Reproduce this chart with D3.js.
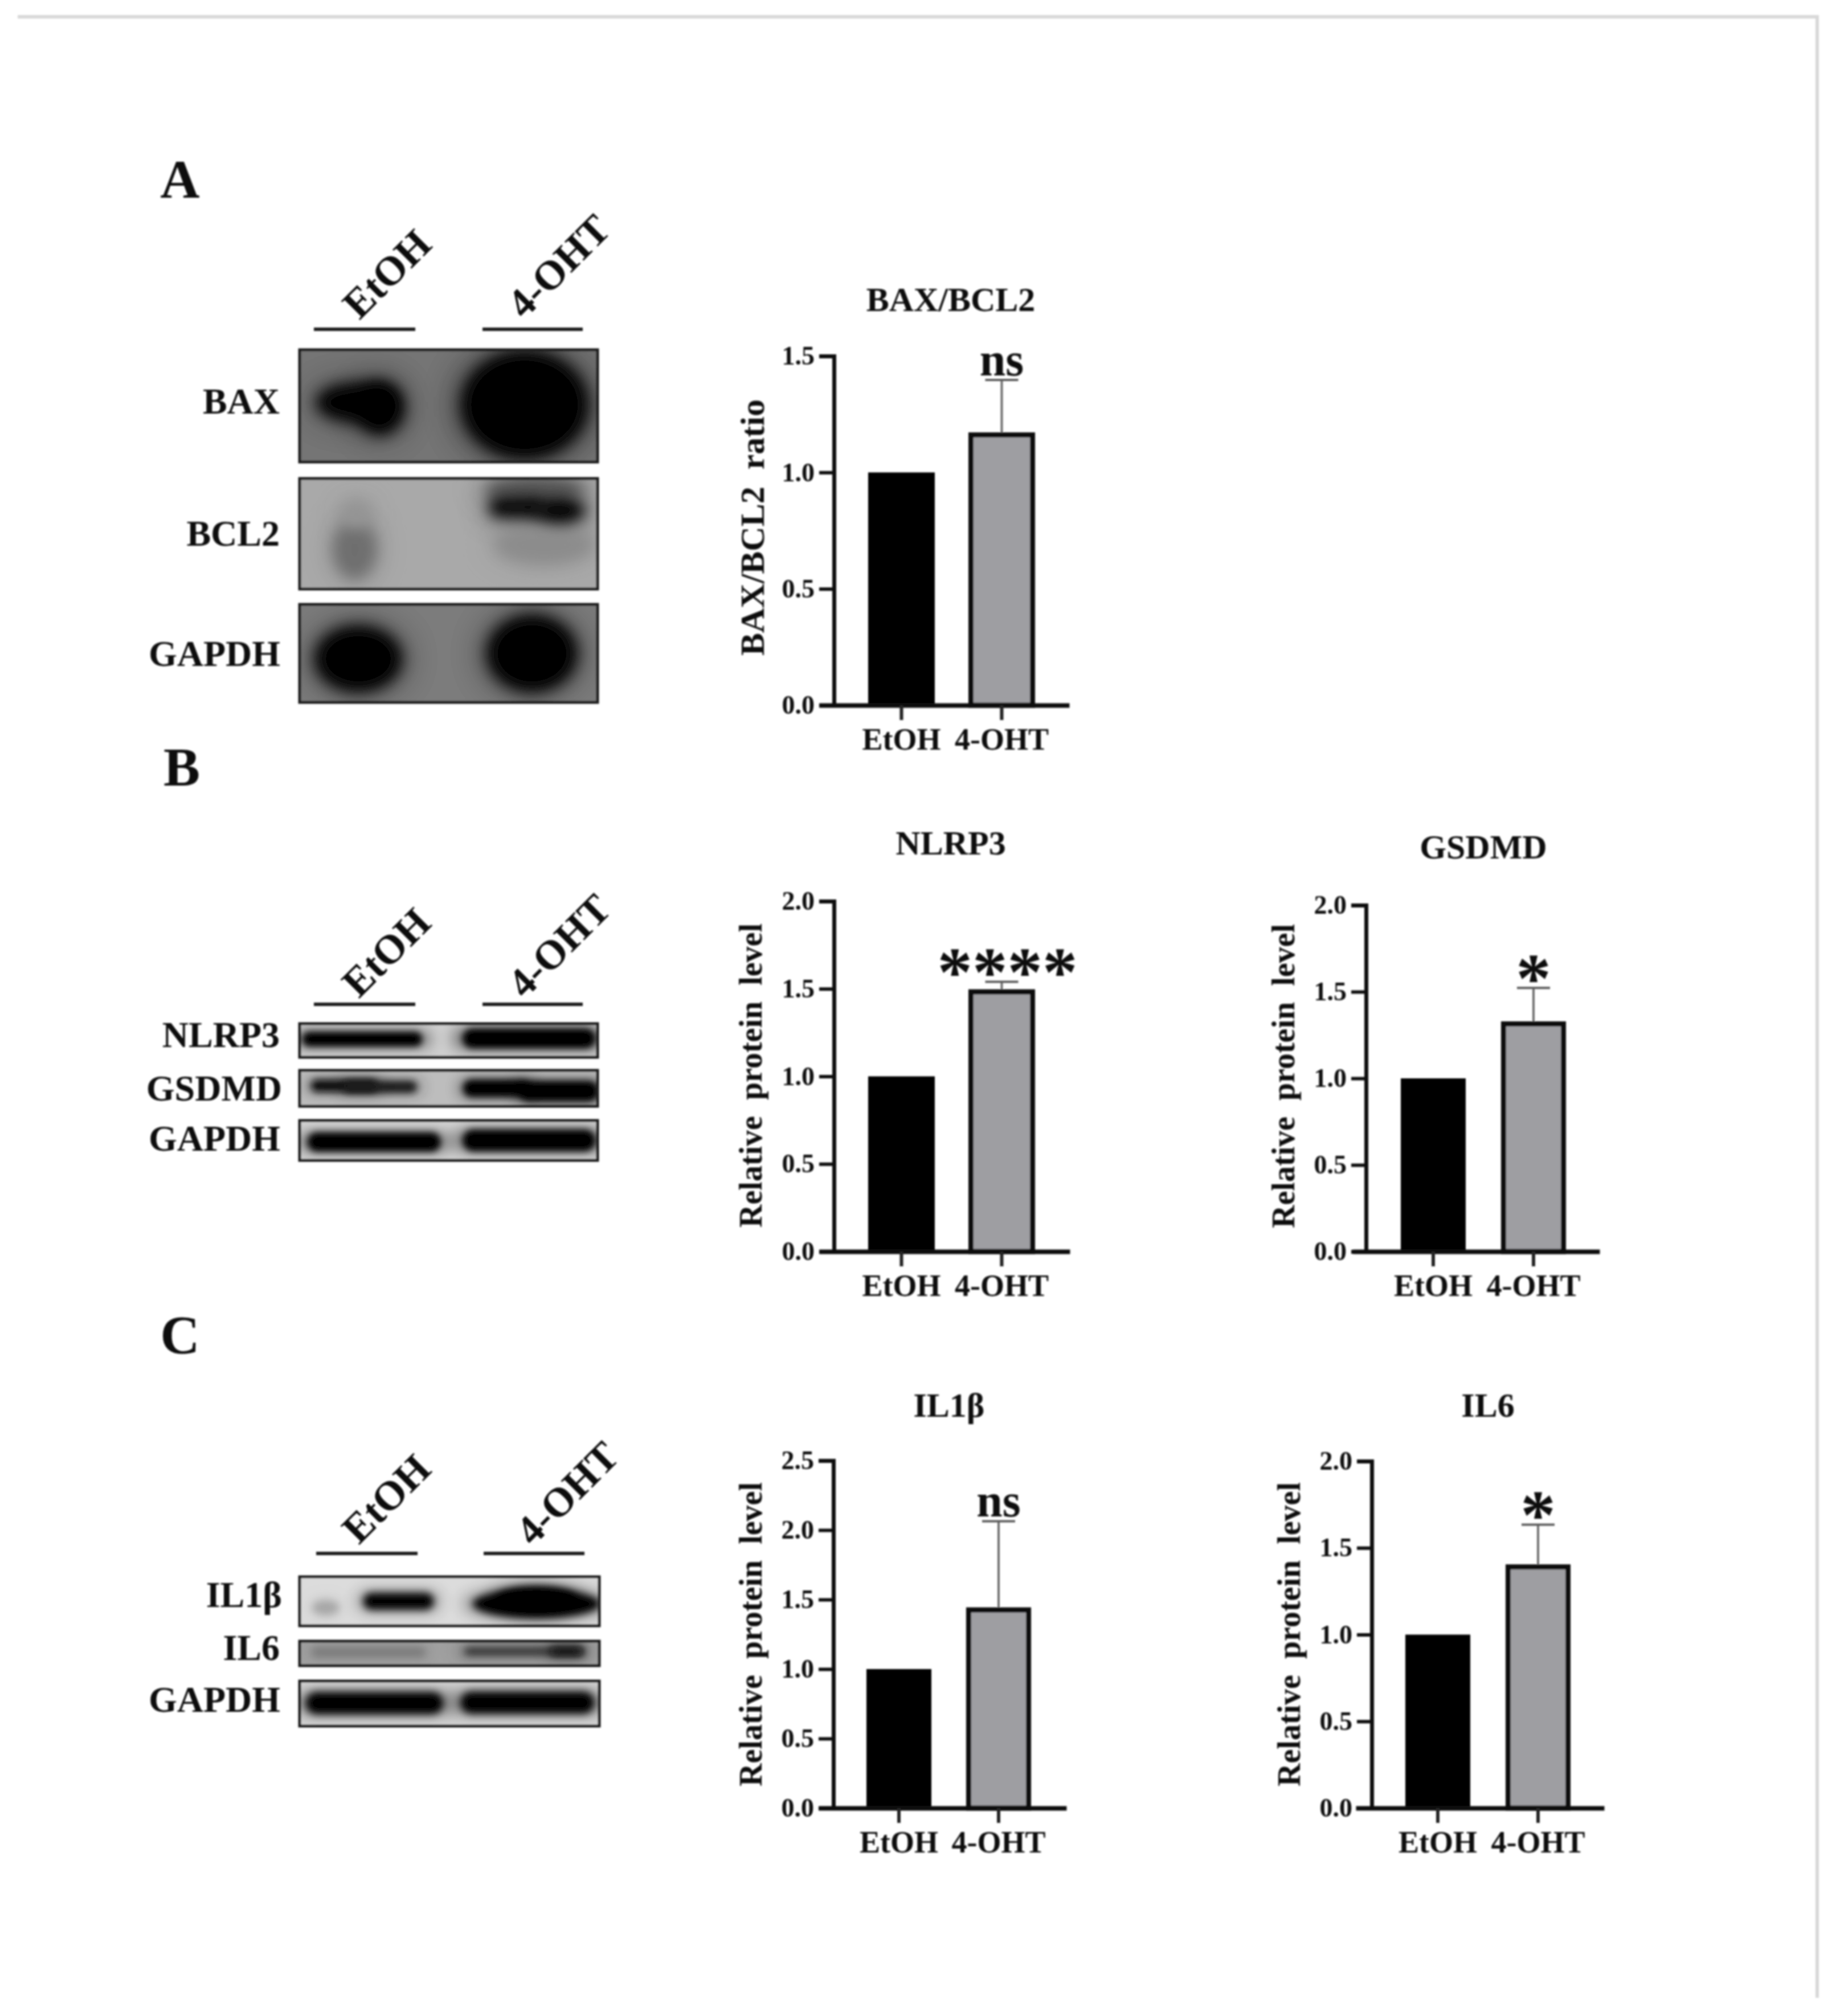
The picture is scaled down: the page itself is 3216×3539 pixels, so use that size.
<!DOCTYPE html>
<html>
<head>
<meta charset="utf-8">
<script src="https://cdn.jsdelivr.net/npm/d3@7"></script>
<style>
  body { margin: 0; background: #fff; }
  text { font-family: "Liberation Serif", serif; font-weight: bold; fill: #0c0c0c; }
</style>
</head>
<body>
<div id="chart"></div>
<script>
// values
var groups = ['EtOH', '4-OHT'];
var baxBcl2Means = [1.0, 1.172];
var baxBcl2ErrTop = 1.397;
var nlrp3Means = [1.0, 1.497];
var nlrp3ErrTop = 1.54;
var gsdmdMeans = [1.0, 1.329];
var gsdmdErrTop = 1.522;
var il1bMeans = [1.0, 1.444];
var il1bErrTop = 2.064;
var il6Means = [1.0, 1.405];
var il6ErrTop = 1.634;
var ticksTo15 = [0, 0.5, 1.0, 1.5];
var ticksTo20 = [0, 0.5, 1.0, 1.5, 2.0];
var ticksTo25 = [0, 0.5, 1.0, 1.5, 2.0, 2.5];

var W = 3216, H = 3539;

var svg = d3.select('#chart').append('svg')
    .attr('width', W)
    .attr('height', H)
    .style('display', 'block');

var defs = svg.append('defs');

function blurFilter(id, dev) {
  defs.append('filter')
      .attr('id', id)
      .attr('x', '-100%').attr('y', '-150%')
      .attr('width', '300%').attr('height', '400%')
    .append('feGaussianBlur')
      .attr('stdDeviation', dev);
}

// whole picture is a bit soft, it was upscaled
defs.append('filter')
    .attr('id', 'soft')
    .attr('filterUnits', 'userSpaceOnUse')
    .attr('x', 0).attr('y', 0).attr('width', W).attr('height', H)
  .append('feGaussianBlur')
    .attr('stdDeviation', 1.4);

var root = svg.append('g').attr('filter', 'url(#soft)');

// page frame
root.append('path')
    .attr('d', 'M31,29.5H3190V3507')
    .attr('fill', 'none')
    .attr('stroke', '#d8d8d8')
    .attr('stroke-width', 6);

// panel letters
[['A', 316, 347], ['B', 319, 1379], ['C', 316, 2376]].forEach(function(d) {
  root.append('text')
      .attr('x', d[1]).attr('y', d[2])
      .attr('text-anchor', 'middle')
      .attr('font-size', 96)
      .text(d[0]);
});

// ---- blots ----
// band rows: cx, cy, rx, ry as fractions of the strip, then grey, then round (ellipse) or pill
var blotSets = [
  {
    left: 526, right: 1049, lines: 578, lanes: [[551, 729], [847, 1023]], e: [631, 563], o: [920, 562], blur: 13,
    strips: [
      {name: 'BAX', top: 614, bottom: 811, base: '#747474', labelY: 726, labelX: 491, bands: [
        [0.19, 0.47, 0.12, 0.15, '#000', 1],
        [0.27, 0.52, 0.07, 0.21, '#000', 1],
        [0.755, 0.49, 0.19, 0.43, '#000', 1]
      ]},
      {name: 'BCL2', top: 840, bottom: 1034, base: '#a9a9a9', labelY: 958, labelX: 491, bands: [
        [0.82, 0.60, 0.15, 0.16, '#8c8c8c', 1],
        [0.79, 0.10, 0.15, 0.10, '#555', 1],
        [0.73, 0.26, 0.085, 0.08, '#000', 0],
        [0.875, 0.29, 0.075, 0.10, '#000', 1],
        [0.185, 0.64, 0.065, 0.24, '#6e6e6e', 1],
        [0.19, 0.32, 0.05, 0.12, '#949494', 1]
      ]},
      {name: 'GAPDH', top: 1061, bottom: 1233, base: '#7b7b7b', labelY: 1169, labelX: 492, bands: [
        [0.197, 0.555, 0.13, 0.30, '#000', 1],
        [0.78, 0.50, 0.135, 0.35, '#000', 1]
      ]}
    ]
  },
  {
    left: 526, right: 1049, lines: 1763, lanes: [[551, 729], [847, 1023]], e: [630, 1754], o: [921, 1755], blur: 6,
    strips: [
      {name: 'NLRP3', top: 1797, bottom: 1856, base: '#cfcfcf', labelY: 1838, labelX: 491, bands: [
        [0.21, 0.46, 0.18, 0.20, '#000', 0],
        [0.77, 0.44, 0.20, 0.27, '#000', 0]
      ]},
      {name: 'GSDMD', top: 1879, bottom: 1942, base: '#bdbdbd', labelY: 1932, labelX: 495, bands: [
        [0.15, 0.43, 0.10, 0.15, '#0a0a0a', 0],
        [0.27, 0.46, 0.11, 0.15, '#1c1c1c', 0],
        [0.66, 0.50, 0.10, 0.22, '#000', 0],
        [0.87, 0.58, 0.12, 0.26, '#000', 0]
      ]},
      {name: 'GAPDH', top: 1967, bottom: 2037, base: '#d8d8d8', labelY: 2020, labelX: 492, bands: [
        [0.25, 0.54, 0.20, 0.22, '#000', 0],
        [0.77, 0.50, 0.20, 0.25, '#000', 0]
      ]}
    ]
  },
  {
    left: 526, right: 1052, lines: 2727, lanes: [[555, 733], [849, 1026]], e: [630, 2713], o: [935, 2716], blur: 7,
    strips: [
      {name: 'IL1β', top: 2768, bottom: 2854, base: '#dcdcdc', labelY: 2821, labelX: 495, bands: [
        [0.087, 0.63, 0.04, 0.13, '#a6a6a6', 1],
        [0.33, 0.50, 0.105, 0.15, '#000', 0],
        [0.79, 0.45, 0.12, 0.22, '#000', 1],
        [0.79, 0.55, 0.19, 0.26, '#000', 1]
      ]},
      {name: 'IL6', top: 2881, bottom: 2924, base: '#a2a2a2', labelY: 2914, labelX: 491, bands: [
        [0.23, 0.45, 0.17, 0.18, '#7a7a7a', 0],
        [0.75, 0.42, 0.18, 0.15, '#2e2e2e', 0],
        [0.89, 0.42, 0.05, 0.15, '#080808', 0]
      ]},
      {name: 'GAPDH', top: 2951, bottom: 3030, base: '#dadada', labelY: 3005, labelX: 492, bands: [
        [0.25, 0.49, 0.205, 0.22, '#000', 0],
        [0.76, 0.48, 0.20, 0.22, '#000', 0]
      ]}
    ]
  }
];

blotSets.forEach(function(set, si) {
  blurFilter('core' + si, set.blur);
  blurFilter('halo' + si, set.blur * 2);

  // lane bars and rotated lane names
  set.lanes.forEach(function(l) {
    root.append('line')
        .attr('x1', l[0]).attr('x2', l[1])
        .attr('y1', set.lines).attr('y2', set.lines)
        .attr('stroke', '#1c1c1c')
        .attr('stroke-width', 6);
  });
  root.append('text')
      .attr('transform', 'translate(' + set.e + ') rotate(-45)')
      .attr('font-size', 72)
      .text(groups[0]);
  root.append('text')
      .attr('transform', 'translate(' + set.o + ') rotate(-45)')
      .attr('font-size', 72)
      .text(groups[1]);

  set.strips.forEach(function(strip, i) {
    var w = set.right - set.left,
        h = strip.bottom - strip.top,
        sx = d3.scaleLinear().range([0, w]),
        sy = d3.scaleLinear().range([0, h]),
        id = 'clip' + si + '_' + i;

    defs.append('clipPath').attr('id', id)
      .append('rect').attr('width', w).attr('height', h);

    var g = root.append('g')
        .attr('transform', 'translate(' + set.left + ',' + strip.top + ')');

    var inner = g.append('g').attr('clip-path', 'url(#' + id + ')');
    inner.append('rect')
        .attr('width', w).attr('height', h)
        .attr('fill', strip.base);

    // faint wide halo first, then a fatter core so no plateau shows between them
    [['halo', 1.3, 0.4], ['core', 1.12, 1]].forEach(function(pass) {
      inner.selectAll('rect.' + pass[0])
          .data(strip.bands)
        .enter().append('rect')
          .attr('class', pass[0])
          .attr('x', function(d) { return sx(d[0] - d[2] * pass[1]); })
          .attr('y', function(d) { return sy(d[1] - d[3] * pass[1]); })
          .attr('width', function(d) { return sx(d[2] * 2 * pass[1]); })
          .attr('height', function(d) { return sy(d[3] * 2 * pass[1]); })
          .attr('rx', function(d) { return d[5] ? sx(d[2] * pass[1]) : sy(d[3] * pass[1]); })
          .attr('ry', function(d) { return sy(d[3] * pass[1]); })
          .attr('fill', function(d) { return d[4]; })
          .attr('opacity', pass[2])
          .attr('filter', 'url(#' + pass[0] + si + ')');
    });

    g.append('rect')
        .attr('width', w).attr('height', h)
        .attr('fill', 'none')
        .attr('stroke', '#1e1e1e')
        .attr('stroke-width', 5);

    root.append('text')
        .attr('x', strip.labelX).attr('y', strip.labelY)
        .attr('text-anchor', 'end')
        .attr('font-size', 64)
        .text(strip.name);
  });
});

// ---- bar charts ----
function barChart(o) {
  var y = d3.scaleLinear().domain([0, o.ticks[o.ticks.length - 1]]).range([o.y0, o.y1]);

  // band scale spans the whole x axis line, bars sit inside it
  var span = o.xr - o.xl,
      step = o.step,
      inner = 1 - o.bw / step,
      outerTotal = span - (step + o.bw),
      x = d3.scaleBand()
        .domain(groups)
        .range([o.xl, o.xr])
        .paddingInner(inner)
        .paddingOuter(outerTotal / 2 / step)
        .align((o.bar0 - o.xl) / outerTotal);

  var g = root.append('g');

  // bars
  var sw = 9;
  g.append('rect')
      .attr('x', x(groups[0]))
      .attr('y', y(o.means[0]))
      .attr('width', x.bandwidth())
      .attr('height', y(0) - y(o.means[0]))
      .attr('fill', '#000');

  // error bar goes behind the second bar
  var cx = x(groups[1]) + x.bandwidth() / 2,
      capW = 58;
  g.append('line')
      .attr('x1', cx).attr('x2', cx)
      .attr('y1', y(o.means[1])).attr('y2', y(o.err))
      .attr('stroke', '#6e6e6e')
      .attr('stroke-width', 4);
  g.append('line')
      .attr('x1', cx - capW / 2).attr('x2', cx + capW / 2)
      .attr('y1', y(o.err)).attr('y2', y(o.err))
      .attr('stroke', '#5a5a5a')
      .attr('stroke-width', 4);

  g.append('rect')
      .attr('x', x(groups[1]) + sw / 2)
      .attr('y', y(o.means[1]) + sw / 2)
      .attr('width', x.bandwidth() - sw)
      .attr('height', y(0) - y(o.means[1]) - sw / 2)
      .attr('fill', '#9e9ea2')
      .attr('stroke', '#0a0a0a')
      .attr('stroke-width', sw);

  // axes
  var yAxis = d3.axisLeft(y)
      .tickValues(o.ticks)
      .tickFormat(d3.format('.1f'))
      .tickSize(26)
      .tickPadding(8);
  var xAxis = d3.axisBottom(x)
      .tickSize(26)
      .tickSizeOuter(0)
      .tickPadding(14);

  var ya = g.append('g')
      .attr('transform', 'translate(' + o.axisX + ',0)')
      .call(yAxis);
  ya.selectAll('text').attr('font-size', 46).style('font-family', null);
  ya.selectAll('line').attr('stroke', '#111').attr('stroke-width', 6);
  ya.select('.domain').attr('stroke', '#111').attr('stroke-width', 7);

  var xa = g.append('g')
      .attr('transform', 'translate(0,' + o.y0 + ')')
      .call(xAxis);
  xa.selectAll('text').attr('font-size', 54).style('font-family', null);
  xa.selectAll('line').attr('stroke', '#222').attr('stroke-width', 6);
  xa.select('.domain').attr('stroke', '#111').attr('stroke-width', 8);

  // title, y label, significance mark
  g.append('text')
      .attr('x', o.titleX).attr('y', o.titleY)
      .attr('text-anchor', 'middle')
      .attr('font-size', 60)
      .text(o.title);

  g.append('text')
      .attr('transform', 'translate(' + o.labelX + ',' + o.labelY + ') rotate(-90)')
      .attr('text-anchor', 'middle')
      .attr('font-size', o.labelSize)
      .style('white-space', 'pre')
      .text(o.label);

  var star = o.mark.charAt(0) == '*';
  g.append('text')
      .attr('x', cx + (o.markDx || 0))
      .attr('y', y(o.err) + (star ? 25 : -8))
      .attr('text-anchor', 'middle')
      .attr('font-size', star ? 123 : 82)
      .text(o.mark);
}

var relLabel = 'Relative  protein  level';

barChart({
  title: 'BAX/BCL2', titleX: 1669, titleY: 546,
  label: 'BAX/BCL2  ratio', labelX: 1341, labelY: 926, labelSize: 60,
  means: baxBcl2Means, err: baxBcl2ErrTop, mark: 'ns', ticks: ticksTo15,
  axisX: 1464, y0: 1238, y1: 625, xl: 1438, xr: 1877, bar0: 1524, step: 176, bw: 117
});
barChart({
  title: 'NLRP3', titleX: 1669, titleY: 1500,
  label: relLabel, labelX: 1337, labelY: 1888, labelSize: 56,
  means: nlrp3Means, err: nlrp3ErrTop, mark: '****', markDx: 10, ticks: ticksTo20,
  axisX: 1464, y0: 2197, y1: 1582, xl: 1438, xr: 1878, bar0: 1524, step: 176, bw: 117
});
barChart({
  title: 'GSDMD', titleX: 2604, titleY: 1507,
  label: relLabel, labelX: 2272, labelY: 1889, labelSize: 56,
  means: gsdmdMeans, err: gsdmdErrTop, mark: '*', ticks: ticksTo20,
  axisX: 2398, y0: 2197, y1: 1589, xl: 2375, xr: 2808, bar0: 2459, step: 176, bw: 114
});
barChart({
  title: 'IL1β', titleX: 1666, titleY: 2487,
  label: relLabel, labelX: 1337, labelY: 2869, labelSize: 56,
  means: il1bMeans, err: il1bErrTop, mark: 'ns', ticks: ticksTo25,
  axisX: 1463, y0: 3174, y1: 2564, xl: 1437, xr: 1872, bar0: 1521, step: 175, bw: 114
});
barChart({
  title: 'IL6', titleX: 2612, titleY: 2487,
  label: relLabel, labelX: 2282, labelY: 2869, labelSize: 56,
  means: il6Means, err: il6ErrTop, mark: '*', ticks: ticksTo20,
  axisX: 2408, y0: 3174, y1: 2565, xl: 2380, xr: 2816, bar0: 2467, step: 176, bw: 114
});
</script>
</body>
</html>
